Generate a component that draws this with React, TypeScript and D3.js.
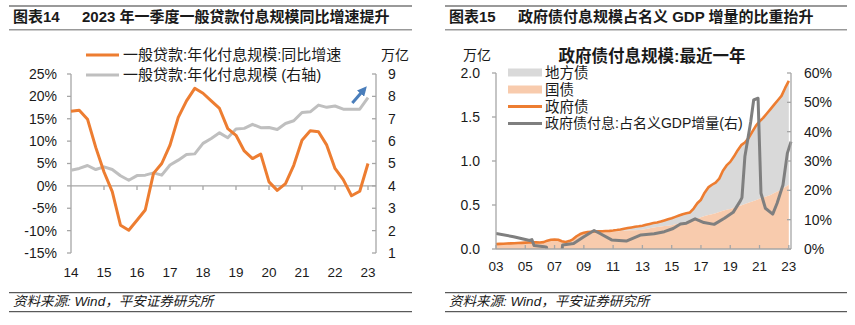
import React from 'react';
import * as d3 from 'd3';

// ---------- Left chart data (quarterly, 2014Q1 – 2023Q1) ----------
const leftYearLabels = ['14', '15', '16', '17', '18', '19', '20', '21', '22', '23'];
const loanGrowth = [
  16.7, 16.9, 14.9, 8.6,
  3.1, -1.3, -8.8, -9.9,
  -7.7, -5.4, 2.8, 5.0,
  9.1, 15.3, 19.0, 21.8,
  20.7, 19.0, 17.3, 12.8,
  11.3, 7.8, 6.1, 7.1,
  0.9, -1.0, 0.5, 4.6,
  10.2, 12.3, 12.1, 9.1,
  3.9, 1.4, -2.2, -1.2,
  5.0,
];
const loanInterest = [
  4.70, 4.78, 4.91, 4.73,
  4.85, 4.73, 4.45, 4.25,
  4.46, 4.48, 4.58, 4.48,
  4.93, 5.15, 5.40, 5.43,
  5.90, 6.12, 6.37, 6.15,
  6.54, 6.57, 6.75, 6.60,
  6.61, 6.52, 6.79, 6.91,
  7.28, 7.31, 7.61, 7.51,
  7.57, 7.43, 7.43, 7.43,
  7.94,
];
const leftPctTicks = [-15, -10, -5, 0, 5, 10, 15, 20, 25];
const leftRightTicks = [1, 2, 3, 4, 5, 6, 7, 8, 9];

// ---------- Right chart data (quarterly, 2003Q1 – 2023Q1) ----------
const govYearLabels = ['03', '05', '07', '09', '11', '13', '15', '17', '19', '21', '23'];
const govTotal = [
  0.055, 0.058, 0.060, 0.062,
  0.064, 0.066, 0.068, 0.070,
  0.072, 0.074, 0.076, 0.075,
  0.074, 0.078, 0.095, 0.105,
  0.108, 0.105, 0.088, 0.080,
  0.090, 0.110, 0.145, 0.170,
  0.185, 0.192, 0.196, 0.198,
  0.200, 0.202, 0.204, 0.206,
  0.210, 0.215, 0.222, 0.230,
  0.238, 0.245, 0.252, 0.258,
  0.265, 0.275, 0.285, 0.295,
  0.302, 0.312, 0.325, 0.338,
  0.350, 0.365, 0.380, 0.395,
  0.405, 0.415, 0.460, 0.520,
  0.560, 0.640, 0.700, 0.730,
  0.755, 0.800, 0.890, 0.950,
  0.990, 1.050, 1.120, 1.180,
  1.210, 1.260, 1.330, 1.400,
  1.450, 1.490, 1.540, 1.590,
  1.640, 1.690, 1.740, 1.830,
  1.910,
];
const govNational = [
  0.055, 0.058, 0.060, 0.062,
  0.064, 0.066, 0.068, 0.070,
  0.072, 0.074, 0.076, 0.075,
  0.074, 0.078, 0.095, 0.105,
  0.108, 0.105, 0.088, 0.080,
  0.090, 0.110, 0.145, 0.170,
  0.182, 0.188, 0.190, 0.192,
  0.193, 0.194, 0.195, 0.196,
  0.198, 0.200, 0.204, 0.208,
  0.210, 0.212, 0.214, 0.216,
  0.220, 0.228, 0.236, 0.244,
  0.250, 0.255, 0.260, 0.265,
  0.270, 0.280, 0.290, 0.300,
  0.310, 0.320, 0.330, 0.345,
  0.360, 0.375, 0.385, 0.395,
  0.405, 0.420, 0.435, 0.445,
  0.455, 0.470, 0.485, 0.495,
  0.510, 0.525, 0.540, 0.555,
  0.570, 0.585, 0.600, 0.615,
  0.635, 0.655, 0.680, 0.705,
  0.730,
];
const ratioTime = [
  2003.0, 2004.2, 2005.3, 2005.45, 2005.6, 2006.3, 2006.45, 2006.55, 2007.45, 2007.55,
  2008.3, 2009.0, 2009.7, 2010.1, 2010.9, 2011.9, 2012.9, 2013.8, 2014.5, 2015.1,
  2015.6, 2016.0, 2016.6, 2017.2, 2017.9, 2018.6, 2019.2, 2019.7, 2019.8, 2020.0,
  2020.4, 2020.6, 2020.9, 2021.1, 2021.4, 2021.9, 2022.2, 2022.6, 2022.9, 2023.15,
];
const ratioValue = [
  5.3, 4.2, 2.9, 3.2, 1.2, 0.8, 0.6, -3.0, -3.0, 1.4,
  1.9, 4.2, 6.3, 5.3, 3.1, 2.7, 4.8, 5.2, 5.9, 7.0,
  8.5, 8.8, 10.3, 9.0, 8.4, 10.5, 12.5, 16.5, 17.5, 31.5,
  43.4, 50.8, 51.4, 19.0, 13.9, 11.9, 15.6, 21.8, 32.6, 36.6,
];
const govLeftTicks = [0, 0.5, 1.0, 1.5, 2.0];
const govRightTicks = [0, 10, 20, 30, 40, 50, 60];

const FONT = '"Liberation Sans", Arial, "Noto Sans CJK SC", sans-serif';
const ORANGE = '#ED7D31';
const LIGHTGRAY = '#BFBFBF';
const DARKGRAY = '#7F7F7F';
const PEACH = '#F8CBAD';
const AREAGRAY = '#D9D9D9';
const AXIS = '#A6A6A6';
const TEXT = '#1a1a1a';

function Frame({ x0, x1, num, title }: { x0: number; x1: number; num: string; title: string }) {
  return (
    <g>
      <line x1={x0} x2={x1} y1={6} y2={6} stroke="#999" strokeWidth={2} />
      <text x={x0 + 4} y={22} fontSize={15} fontWeight="bold" fill={TEXT} fontFamily={FONT}>{num}</text>
      <text x={x0 + 73} y={22} fontSize={15} fontWeight="bold" fill={TEXT} fontFamily={FONT}>{title}</text>
      <line x1={x0} x2={x1} y1={29.7} y2={29.7} stroke="#999" strokeWidth={1.5} />
      <line x1={x0} x2={x1} y1={292.7} y2={292.7} stroke="#333" strokeWidth={1} />
      <text x={x0 + 4} y={306} fontSize={13.5} fontStyle="italic" fill={TEXT} fontFamily={FONT}>资料来源: Wind，平安证券研究所</text>
      <line x1={x0} x2={x1} y1={311.7} y2={311.7} stroke="#333" strokeWidth={1} />
    </g>
  );
}

function LeftChart() {
  const x = d3.scaleLinear().domain([0, 36]).range([71, 368]);
  const yL = d3.scaleLinear().domain([-15, 25]).range([253, 74]);
  const yR = d3.scaleLinear().domain([1, 9]).range([253, 74]);
  const axL = 71, axR = 376;
  const lineG = d3.line<number>().x((_, i) => x(i)).y((d) => yL(d));
  const lineI = d3.line<number>().x((_, i) => x(i)).y((d) => yR(d));
  return (
    <g fontFamily={FONT}>
      <line x1={axL} x2={axL} y1={yL(25)} y2={yL(-15)} stroke={AXIS} strokeWidth={1.3} />
      {leftPctTicks.map((t) => (
        <g key={t}>
          <line x1={axL - 4} x2={axL} y1={yL(t)} y2={yL(t)} stroke={AXIS} strokeWidth={1.3} />
          <text x={57} y={yL(t)} dy="0.35em" textAnchor="end" fontSize={14} fill={TEXT}>{t}%</text>
        </g>
      ))}
      <line x1={axR} x2={axR} y1={yR(9)} y2={yR(1)} stroke={AXIS} strokeWidth={1.3} />
      {leftRightTicks.map((t) => (
        <g key={t}>
          <line x1={axR - 4} x2={axR} y1={yR(t)} y2={yR(t)} stroke={AXIS} strokeWidth={1.3} />
          <text x={388} y={yR(t)} dy="0.35em" textAnchor="start" fontSize={14} fill={TEXT}>{t}</text>
        </g>
      ))}
      <text x={381} y={55} dy="0.35em" fontSize={14} fill={TEXT}>万亿</text>
      <line x1={axL} x2={axR} y1={yL(0)} y2={yL(0)} stroke={AXIS} strokeWidth={1.3} />
      {leftYearLabels.map((lab, i) => (
        <g key={lab}>
          {i > 0 && <line x1={x(i * 4)} x2={x(i * 4)} y1={yL(0)} y2={yL(0) + 4} stroke={AXIS} strokeWidth={1.3} />}
          <text x={x(i * 4)} y={277} textAnchor="middle" fontSize={13.5} fill={TEXT}>{lab}</text>
        </g>
      ))}
      <path d={lineI(loanInterest) || ''} fill="none" stroke={LIGHTGRAY} strokeWidth={3} strokeLinejoin="round" />
      <path d={lineG(loanGrowth) || ''} fill="none" stroke={ORANGE} strokeWidth={3} strokeLinejoin="round" />
      <defs>
        <marker id="arrowBlue" viewBox="0 0 10 10" refX="6" refY="5" markerWidth="3.2" markerHeight="3.2" orient="auto">
          <path d="M0,0 L10,5 L0,10 z" fill="#4A7EBB" />
        </marker>
      </defs>
      <line x1={x(34.1)} y1={yR(7.7)} x2={x(35.55)} y2={yR(8.32)} stroke="#4A7EBB" strokeWidth={3} markerEnd="url(#arrowBlue)" />
      <line x1={86} x2={119} y1={55} y2={55} stroke={ORANGE} strokeWidth={3} />
      <text x={123} y={55} dy="0.35em" fontSize={15} fill={TEXT}>一般贷款:年化付息规模:同比增速</text>
      <line x1={86} x2={119} y1={75} y2={75} stroke={LIGHTGRAY} strokeWidth={3} />
      <text x={123} y={75} dy="0.35em" fontSize={15} fill={TEXT}>一般贷款:年化付息规模 (右轴)</text>
    </g>
  );
}

function RightChart() {
  const x = d3.scaleLinear().domain([2003, 2023.15]).range([496, 791]);
  const yA = d3.scaleLinear().domain([0, 2]).range([249, 73]);
  const yP = d3.scaleLinear().domain([0, 60]).range([249, 73]);
  const tq = (i: number) => 2003 + i / 4;
  const axL = 496, axR = 791, base = 249;
  const natArea = d3.area<number>().x((_, i) => x(tq(i))).y0(yA(0)).y1((d) => yA(d));
  const localArea = d3.area<number>().x((_, i) => x(tq(i))).y0((_, i) => yA(govNational[i])).y1((d) => yA(d));
  const totLine = d3.line<number>().x((_, i) => x(tq(i))).y((d) => yA(d));
  const ratioLine = d3.line<number>().x((_, i) => x(ratioTime[i])).y((d) => yP(d));
  const legendY = [72.5, 89.5, 106.5, 123.5];
  return (
    <g fontFamily={FONT}>
      <defs>
        <clipPath id="plotClip">
          <rect x={axL} y={60} width={axR - axL + 3} height={base - 60} />
        </clipPath>
      </defs>
      <text x={652} y={62} textAnchor="middle" fontSize={16.5} fontWeight="bold" fill={TEXT}>政府债付息规模:最近一年</text>
      <text x={477} y={55} dy="0.35em" textAnchor="middle" fontSize={14} fill={TEXT}>万亿</text>
      <path d={localArea(govTotal) || ''} fill={AREAGRAY} />
      <path d={natArea(govNational) || ''} fill={PEACH} />
      <path d={totLine(govTotal) || ''} fill="none" stroke={ORANGE} strokeWidth={2.6} strokeLinejoin="round" />
      <g clipPath="url(#plotClip)">
        <path d={ratioLine(ratioValue) || ''} fill="none" stroke={DARKGRAY} strokeWidth={3} strokeLinejoin="round" />
      </g>
      <line x1={axL} x2={axL} y1={yA(2)} y2={base} stroke={AXIS} strokeWidth={1.3} />
      {govLeftTicks.map((t) => (
        <g key={t}>
          <line x1={axL - 4} x2={axL} y1={yA(t)} y2={yA(t)} stroke={AXIS} strokeWidth={1.3} />
          <text x={480} y={yA(t)} dy="0.35em" textAnchor="end" fontSize={14} fill={TEXT}>{t.toFixed(1)}</text>
        </g>
      ))}
      <line x1={axR} x2={axR} y1={yP(60)} y2={base} stroke={AXIS} strokeWidth={1.3} />
      {govRightTicks.map((t) => (
        <g key={t}>
          <line x1={axR - 4} x2={axR} y1={yP(t)} y2={yP(t)} stroke={AXIS} strokeWidth={1.3} />
          <text x={804} y={yP(t)} dy="0.35em" textAnchor="start" fontSize={14} fill={TEXT}>{t}%</text>
        </g>
      ))}
      <line x1={axL} x2={axR} y1={base} y2={base} stroke={AXIS} strokeWidth={1.3} />
      {govYearLabels.map((lab, i) => (
        <g key={lab}>
          <line x1={x(2003 + i * 2)} x2={x(2003 + i * 2)} y1={base} y2={base - 4} stroke={AXIS} strokeWidth={1.3} />
          <text x={x(2003 + i * 2)} y={271} textAnchor="middle" fontSize={13.5} fill={TEXT}>{lab}</text>
        </g>
      ))}
      <rect x={508} y={legendY[0] - 4} width={34} height={8} fill={AREAGRAY} />
      <text x={545} y={legendY[0]} dy="0.35em" fontSize={14.5} fill={TEXT}>地方债</text>
      <rect x={508} y={legendY[1] - 4} width={34} height={8} fill={PEACH} />
      <text x={545} y={legendY[1]} dy="0.35em" fontSize={14.5} fill={TEXT}>国债</text>
      <line x1={508} x2={542} y1={legendY[2]} y2={legendY[2]} stroke={ORANGE} strokeWidth={3} />
      <text x={545} y={legendY[2]} dy="0.35em" fontSize={14.5} fill={TEXT}>政府债</text>
      <line x1={508} x2={542} y1={legendY[3]} y2={legendY[3]} stroke={DARKGRAY} strokeWidth={3} />
      <text x={545} y={legendY[3]} dy="0.35em" fontSize={14} fill={TEXT}>政府债付息:占名义GDP增量(右)</text>
    </g>
  );
}

export default function App() {
  return (
    <svg width={855} height={325} style={{ position: 'absolute', left: 0, top: 0, background: '#fff' }}>
      <rect x={0} y={0} width={855} height={325} fill="#fff" />
      <Frame x0={9} x1={412} num="图表14" title="2023 年一季度一般贷款付息规模同比增速提升" />
      <Frame x0={445} x1={847} num="图表15" title="政府债付息规模占名义 GDP 增量的比重抬升" />
      <LeftChart />
      <RightChart />
    </svg>
  );
}
